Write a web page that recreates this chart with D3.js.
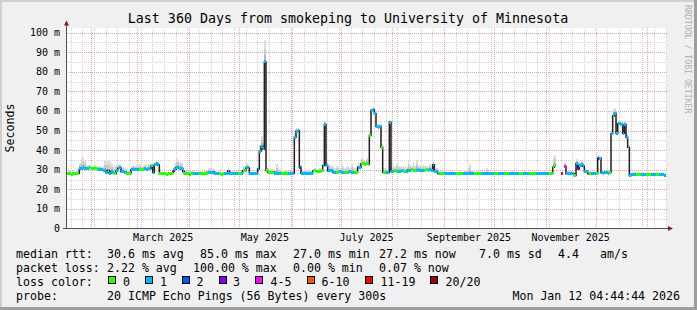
<!DOCTYPE html>
<html>
<head>
<meta charset="utf-8">
<script src="https://cdn.jsdelivr.net/npm/d3@7"></script>
<style>
body { margin: 0; background: #fff; }
svg { display: block; }
text { font-family: "DejaVu Sans Mono", monospace; fill: #000; }
</style>
</head>
<body>
<svg id="chart" width="697" height="310"></svg>
<script>
// time span of the graph
var startTime = Date.UTC(2025, 0, 17, 4, 44, 44);
var endTime = Date.UTC(2026, 0, 12, 4, 44, 44);
var dayMs = 86400000;

// daily median rtt in ms (null = no data)
var median = [
  28.0,27.9,27.9,27.8,28.0,27.9,28.0,28.2,30.4,30.8,30.9,30.8,30.7,30.8,30.9,30.8,30.6,30.8,30.5,30.1,
  30.1,30.0,29.8,29.5,28.6,29.6,28.2,29.1,28.5,28.0,29.4,30.8,31.0,29.0,29.1,28.8,28.3,28.2,28.3,30.1,
  30.2,30.0,30.1,30.3,30.2,30.1,30.2,30.4,30.3,30.5,30.6,31.9,28.6,32.5,33.0,32.4,27.9,27.9,28.0,27.9,
  27.8,27.9,28.0,27.9,29.1,30.2,31.0,31.0,30.8,30.6,29.1,27.9,28.0,27.9,27.8,27.9,28.2,28.0,27.9,27.9,
  28.1,27.9,28.0,27.9,28.0,28.7,28.7,28.6,28.8,27.9,27.9,28.0,27.9,27.8,27.9,28.0,27.9,29.3,28.2,28.1,
  28.2,28.3,28.2,28.1,28.2,28.3,29.5,29.6,30.9,30.9,27.9,27.9,28.0,27.9,27.9,30.4,39.4,42.0,40.6,85.0,
  29.6,28.7,28.6,28.7,28.8,28.2,28.1,28.2,28.3,28.2,28.0,28.2,28.1,28.2,28.2,28.3,28.2,46.6,49.7,49.9,
  31.3,28.2,28.1,28.2,28.2,28.0,28.2,28.3,29.3,29.4,29.2,29.3,29.3,29.4,32.1,53.1,32.1,29.5,29.6,29.4,
  28.7,28.8,28.6,28.7,28.9,28.7,28.6,28.8,28.7,28.7,28.9,28.8,28.6,28.7,28.8,31.3,31.3,33.0,33.1,32.9,
  33.0,32.9,47.4,60.2,60.6,58.6,52.0,51.7,52.0,41.5,28.7,28.8,28.7,28.6,54.2,29.3,29.2,29.4,29.3,29.3,
  29.3,29.4,29.2,29.3,29.3,29.8,29.7,29.9,29.8,29.8,29.7,29.9,29.5,29.8,29.7,29.8,29.9,29.8,29.9,29.6,
  32.5,29.2,29.0,28.0,27.9,28.0,28.1,27.9,28.0,28.0,27.9,28.1,28.0,27.9,28.0,28.0,28.1,27.9,28.0,28.0,
  28.0,28.1,28.0,27.9,28.0,28.0,28.1,27.9,28.0,28.0,27.9,28.0,28.1,28.0,27.9,28.0,28.0,28.1,27.9,28.0,
  28.0,27.9,28.0,28.1,28.0,28.0,27.9,28.0,28.1,28.0,27.9,28.0,28.0,27.9,28.0,28.1,28.0,28.0,27.9,28.0,
  28.0,28.1,28.0,27.9,28.0,28.0,28.1,28.0,27.9,28.0,28.0,28.0,31.3,32.0,null,null,null,27.9,null,31.6,
  27.9,28.0,27.9,27.9,27.9,27.0,33.3,30.4,32.0,32.5,31.8,29.1,29.0,27.9,27.9,28.0,27.9,27.9,28.0,35.9,
  35.9,28.4,28.3,28.4,28.4,28.3,28.6,48.3,57.5,58.8,48.6,53.4,53.4,52.9,48.6,53.0,46.6,41.5,27.0,27.5,
  27.5,27.4,27.5,27.6,27.5,27.5,27.4,27.5,27.5,27.6,27.5,27.4,27.5,27.5,27.6,27.5,27.4,27.5,27.3,27.2
];

// daily loss class (index into lossLabels / lossColors)
var loss = [
  0,0,0,0,0,0,0,0,1,1,1,1,1,1,0,0,0,0,0,1,
  1,1,1,1,1,0,1,1,1,0,1,1,1,1,1,1,0,0,0,1,
  1,1,1,1,0,0,0,1,1,1,1,0,1,1,1,1,0,0,0,0,
  0,0,0,0,6,1,1,1,1,1,1,0,0,0,0,0,1,1,1,1,
  0,0,0,0,0,1,1,1,1,1,1,1,0,0,0,1,1,1,1,1,
  1,1,1,0,0,1,0,0,1,1,1,1,1,1,1,1,1,1,1,1,
  0,0,0,0,0,1,1,1,1,0,0,0,0,1,1,1,1,1,1,1,
  2,1,1,1,1,1,1,1,0,0,0,0,0,0,1,1,1,1,1,1,
  1,1,0,0,1,1,1,0,0,1,1,1,1,0,0,1,1,0,0,0,
  0,0,0,1,1,1,1,1,1,0,0,0,1,1,1,1,1,0,0,1,
  1,1,0,0,1,1,1,0,0,0,1,1,1,1,1,0,0,1,1,1,
  1,1,1,1,0,0,0,1,1,1,1,1,1,1,0,0,0,0,1,1,
  1,1,1,1,1,0,0,0,0,1,1,1,1,1,1,1,1,0,0,1,
  1,1,1,0,0,0,1,1,1,1,1,1,0,0,1,1,1,1,0,0,
  0,0,1,1,1,1,1,1,1,1,0,0,0,0,7,7,7,6,7,4,
  1,1,1,1,1,0,1,3,1,1,1,1,1,5,0,1,1,1,0,3,
  1,1,1,1,1,1,0,1,1,1,1,1,1,1,1,1,1,1,1,1,
  1,1,0,0,0,1,1,1,0,0,0,1,1,1,0,0,1,1,1,1
];

// daily smoke spread above the median, ms
var smoke = [
  1,3,2,1,1,1,2,2,3,5,5.5,4,1.5,1.5,1.5,1,1.5,1.5,1,2,
  2,1.5,2,5,6,5,6,4,3,4,3,2,2,2,3,2,2,1.5,1,2,
  2.5,2,2.5,2,2.5,2,2,2.5,2,2.5,2,1.5,1.5,1.5,1.5,1.5,1,1,0.5,1,
  1,1,1,1,2,3,5,4,3,3,2,1.5,1.5,1,1.5,1.5,1.5,1,1,1.5,
  1.5,1.5,1,1.5,1.5,2,2,2,2,1.5,1,1,1.5,1,1,1,1,2,1.5,1,
  1,1,1,1,1,1.5,2.5,2.5,2.5,2,1,1,1,1,1,2,3,5,4,11,
  2,2,1.5,1.5,1.5,1.5,5,3,2,1.5,1.5,1.5,1,1,1,1,1,1.5,1.5,1.5,
  1.5,1.5,1,1.5,1,1,1.5,1,1.5,1.5,1,1.5,1.5,1,1.5,2,1.5,2,3,2.5,
  3,2,3.5,2.5,2,4,3,2,2.5,3,2,4,3,2,2.5,2,2,3,2.5,2,
  3,2,2,1.5,1.5,1.5,1.5,1.5,1.5,1.5,2,2,1.5,1.5,1,2.5,3,2,4,3,
  2.5,2,3,2,2,5,3,2,4,2,5,2,3,2,2.5,2,2,2,3,2,
  1.5,1.5,2,1,1,1,1,1.5,1,1,1,1,1,1,1,1,1.5,1,1,1.5,
  2,3,5,2,1.5,1,1,1,1.5,1,1,1,3,1.5,1,1,1,1,1,1,
  1,1,1,1,1,1,1,1.5,1,1,1,1,1,1,1,1,1,1,1,1,
  1,1,1,1,1,1,1,1,1,1,1,1.5,5,5.5,0,0,0,1,0,2,
  1.5,1.5,1.5,1.5,1,1,2,2,2,2.5,2,1.5,1,1,1,1,1,1,1.5,1.5,
  1,1,1,1,1,1,1.5,2,3.5,2.5,2,1.5,1.5,1.5,1.5,2,1.5,1,1,1.5,
  1.5,1.5,1,1,1,1.5,1.5,1,1,1,1,1,1.5,1,1,1,1,1,1,1
];

var lossLabels = ["0", "1", "2", "3", "4-5", "6-10", "11-19", "20/20"];
var lossColors = ["#26ff00", "#00b8ff", "#0059ff", "#7e00ff", "#ff00ff", "#ff5500", "#ff0000", "#a10000"];

var yTicks = [0, 10, 20, 30, 40, 50, 60, 70, 80, 90, 100];
var yTickLabels = ["0", "10 m", "20 m", "30 m", "40 m", "50 m", "60 m", "70 m", "80 m", "90 m", "100 m"];
var xLabels = ["March 2025", "May 2025", "July 2025", "September 2025", "November 2025"];
var xLabelMonths = [2, 4, 6, 8, 10]; // months of 2025

var rttLegend = ["median rtt:", "30.6 ms avg", "85.0 ms max", "27.0 ms min", "27.2 ms now", "7.0 ms sd", "4.4", "am/s"];
var lossLegend = ["packet loss:", "2.22 % avg", "100.00 % max", "0.00 % min", "0.07 % now"];
var probeLegend = ["probe:", "20 ICMP Echo Pings (56 Bytes) every 300s"];
var stamp = "Mon Jan 12 04:44:44 2026";
var title = "Last 360 Days from smokeping to University of Minnesota";

var W = 697, H = 310;
var svg = d3.select('#chart');

var x = d3.scaleUtc().domain([new Date(startTime), new Date(endTime)]).range([66, 666]);
var y = d3.scaleLinear().domain([0, 100]).range([228.5, 32.5]);

function dayX(i) { return x(new Date(startTime + i * dayMs)); }

// background + shaded frame
svg.append('rect').attr('width', W).attr('height', H).attr('fill', '#f0f0f0');
svg.append('rect').attr('x', 0).attr('y', 0).attr('width', W).attr('height', 2).attr('fill', '#cfcfcf');
svg.append('rect').attr('x', 0).attr('y', 0).attr('width', 2).attr('height', H).attr('fill', '#cfcfcf');
svg.append('rect').attr('x', 0).attr('y', H - 3).attr('width', W).attr('height', 3).attr('fill', '#9e9e9e');
svg.append('rect').attr('x', W - 3).attr('y', 0).attr('width', 3).attr('height', H).attr('fill', '#9e9e9e');

// canvas
svg.append('rect').attr('x', 66).attr('y', 28).attr('width', 601).attr('height', 200).attr('fill', '#fff');

var grid = svg.append('g').attr('shape-rendering', 'crispEdges');

// minor horizontal grid every 5 ms
d3.range(5, 101, 10).forEach(function(v) {
    grid.append('line').attr('x1', 66).attr('x2', 668)
        .attr('y1', Math.round(y(v)) + 0.5).attr('y2', Math.round(y(v)) + 0.5)
        .attr('stroke', '#d2d2d2').attr('stroke-dasharray', '1,1');
});

// weekly vertical grid
var weeks = d3.utcMonday.range(new Date(startTime), new Date(endTime));
weeks.forEach(function(d) {
    var xx = Math.round(x(d)) + 0.5;
    grid.append('line').attr('x1', xx).attr('x2', xx).attr('y1', 28).attr('y2', 228)
        .attr('stroke', '#d2d2d2').attr('stroke-dasharray', '1,1');
});

// major horizontal grid every 10 ms
yTicks.forEach(function(v) {
    if (v === 0) return;
    grid.append('line').attr('x1', 66).attr('x2', 668)
        .attr('y1', Math.round(y(v)) + 0.5).attr('y2', Math.round(y(v)) + 0.5)
        .attr('stroke', '#f0a0a0').attr('stroke-dasharray', '1,1');
});

// monthly vertical grid
var months = d3.utcMonth.range(new Date(startTime), new Date(endTime));
months.forEach(function(d) {
    var xx = Math.round(x(d)) + 0.5;
    grid.append('line').attr('x1', xx).attr('x2', xx).attr('y1', 28).attr('y2', 228)
        .attr('stroke', '#f0a0a0').attr('stroke-dasharray', '1,1');
});

// smoke
var smokeLayers = [[1, '#dddddd'], [0.6, '#c9c9c9'], [0.3, '#b5b5b5']];
var sm = svg.append('g').attr('shape-rendering', 'crispEdges');
smokeLayers.forEach(function(l) {
    median.forEach(function(m, i) {
        if (m === null || !smoke[i]) return;
        var top = y(m + smoke[i] * l[0]);
        sm.append('rect').attr('x', dayX(i)).attr('width', dayX(i + 1) - dayX(i))
            .attr('y', top).attr('height', y(m) - top).attr('fill', l[1]);
    });
});

// black median line (step)
var pts = [];
median.forEach(function(m, i) {
    pts.push({x: dayX(i), v: m});
    pts.push({x: dayX(i + 1), v: m});
});
var line = d3.line()
    .defined(function(d) { return d.v !== null; })
    .x(function(d) { return d.x; })
    .y(function(d) { return y(d.v); });
svg.append('path').datum(pts).attr('d', line)
    .attr('fill', 'none').attr('stroke', '#202020').attr('stroke-width', 1.5);

// loss coloured bands over the median
var bands = svg.append('g').attr('shape-rendering', 'crispEdges');
median.forEach(function(m, i) {
    if (m === null) return;
    bands.append('rect').attr('x', dayX(i)).attr('width', dayX(i + 1) - dayX(i))
        .attr('y', y(m) - 1.5).attr('height', 3).attr('fill', lossColors[loss[i]]);
});

// axes
svg.append('line').attr('x1', 66.5).attr('x2', 66.5).attr('y1', 228).attr('y2', 24)
    .attr('stroke', '#505050');
svg.append('line').attr('x1', 63).attr('x2', 670).attr('y1', 228.5).attr('y2', 228.5)
    .attr('stroke', '#505050');
svg.append('path').attr('d', 'M64,25.5L69,25.5L66.5,20.5Z').attr('fill', '#8b1a1a');
svg.append('path').attr('d', 'M668,226L668,231L673,228.5Z').attr('fill', '#8b1a1a');

// y labels
svg.selectAll('.ylab').data(yTicks).enter().append('text')
    .attr('class', 'ylab')
    .attr('x', 60).attr('y', function(d) { return y(d); })
    .attr('dy', '0.35em').attr('text-anchor', 'end')
    .style('font-size', '10px')
    .text(function(d, i) { return yTickLabels[i]; });

// x labels, centred in their month
svg.selectAll('.xlab').data(xLabels).enter().append('text')
    .attr('class', 'xlab')
    .attr('x', function(d, i) {
        var m = xLabelMonths[i];
        return (x(new Date(Date.UTC(2025, m, 1))) + x(new Date(Date.UTC(2025, m + 1, 1)))) / 2;
    })
    .attr('y', 240.5).attr('text-anchor', 'middle')
    .style('font-size', '10px')
    .text(function(d) { return d; });

// title
svg.append('text').attr('x', 348).attr('y', 23).attr('text-anchor', 'middle')
    .style('font-size', '13.3px').text(title);

// vertical axis title
svg.append('text').attr('transform', 'translate(14,128) rotate(-90)')
    .attr('text-anchor', 'middle').style('font-size', '11.6px').text('Seconds');

// watermark
svg.append('text').attr('transform', 'translate(685,5) rotate(90)')
    .style('font-size', '8.2px').style('fill', '#b0b0b0').text('RRDTOOL / TOBI OETIKER');

// legend
var lg = svg.append('g').style('font-size', '11.6px');
var rttX = [16, 107, 200, 293, 379, 479, 558, 600];
rttLegend.forEach(function(t, i) {
    lg.append('text').attr('x', rttX[i]).attr('y', 257.7).text(t);
});
var lossX = [16, 107, 193, 293, 379];
lossLegend.forEach(function(t, i) {
    lg.append('text').attr('x', lossX[i]).attr('y', 271.7).text(t);
});
lg.append('text').attr('x', 16).attr('y', 285.5).text('loss color:');
var boxX = [108.5, 145.5, 182.5, 219.5, 255.5, 307.5, 365.5, 430.5];
var boxLabelX = [123, 160, 196.5, 233, 270.5, 321.5, 380.5, 445.5];
lossLabels.forEach(function(t, i) {
    lg.append('rect').attr('x', boxX[i]).attr('y', 276.5).attr('width', 7).attr('height', 7)
        .attr('fill', lossColors[i]).attr('stroke', '#000');
    lg.append('text').attr('x', boxLabelX[i]).attr('y', 285.5).text(t);
});
var probeX = [16, 107];
probeLegend.forEach(function(t, i) {
    lg.append('text').attr('x', probeX[i]).attr('y', 299.5).text(t);
});
lg.append('text').attr('x', 680).attr('y', 299.5).attr('text-anchor', 'end').text(stamp);
</script>
</body>
</html>
